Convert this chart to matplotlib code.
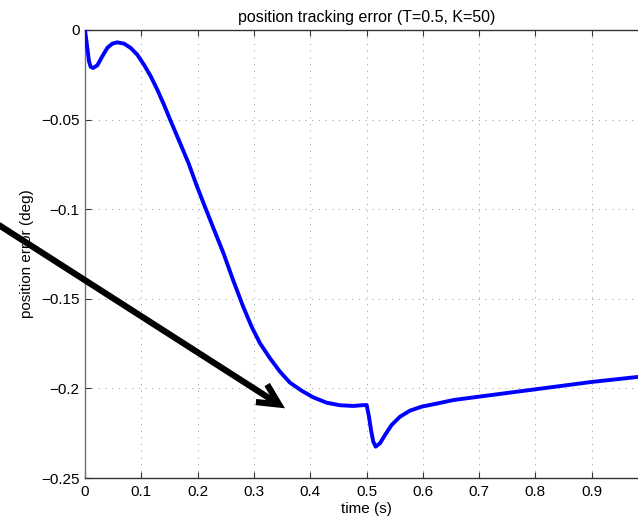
#!/usr/bin/env python3
"""Position tracking error plot (MATLAB-style) with a pointer arrow."""
import matplotlib
matplotlib.use("Agg")
import matplotlib.pyplot as plt

plt.rcParams["font.family"] = ["Liberation Sans", "DejaVu Sans"]

# ---- data ------------------------------------------------------------------
time_s = [0.0000, 0.0041, 0.0071, 0.0100, 0.0142, 0.0219, 0.0307, 0.0396,
          0.0485, 0.0574, 0.0693, 0.0811, 0.0929, 0.1048, 0.1167, 0.1284,
          0.1403, 0.151, 0.169, 0.184, 0.198, 0.213, 0.228, 0.246, 0.263,
          0.281, 0.296, 0.3108, 0.3286, 0.3464, 0.3641, 0.3849, 0.4055,
          0.4293, 0.4529, 0.4766, 0.4914, 0.5003, 0.5044, 0.508, 0.512,
          0.5163, 0.524, 0.5329, 0.5447, 0.5595, 0.5773, 0.598, 0.6275,
          0.6542, 0.700, 0.800, 0.900, 0.985]
err_deg = [0.0000, -0.0100, -0.0175, -0.0205, -0.0212, -0.0197, -0.0147,
           -0.0100, -0.0076, -0.0069, -0.0076, -0.0100, -0.0138, -0.0194,
           -0.0258, -0.0333, -0.0417, -0.0499, -0.0632, -0.0744, -0.0865,
           -0.0986, -0.1105, -0.1246, -0.1395, -0.1544, -0.1656, -0.1748,
           -0.1832, -0.1907, -0.1968, -0.2013, -0.2050, -0.2080, -0.2094,
           -0.2098, -0.2094, -0.2093, -0.2158, -0.2232, -0.2297, -0.2325,
           -0.2306, -0.2260, -0.2204, -0.2158, -0.2124, -0.2102, -0.2083,
           -0.2065, -0.2046, -0.2005, -0.1964, -0.1935]

x_ticks = [0, 0.1, 0.2, 0.3, 0.4, 0.5, 0.6, 0.7, 0.8, 0.9]
x_tick_labels = ["0", "0.1", "0.2", "0.3", "0.4", "0.5", "0.6", "0.7",
                 "0.8", "0.9"]
y_ticks = [-0.25, -0.2, -0.15, -0.1, -0.05, 0]
y_tick_labels = ["\u22120.25", "\u22120.2", "\u22120.15", "\u22120.1",
                 "\u22120.05", "0"]

# arrow annotation (data coords): tail starts off the left edge
arrow_tail = (-0.1865, -0.1021)
arrow_tip = (0.3552, -0.2111)

# ---- plot -------------------------------------------------------------------
fig = plt.figure(figsize=(6.38, 5.2), dpi=100)
# axes runs to x=1 just past the right edge (cropped like the original)
ax = fig.add_axes([85 / 638, 1 - 478 / 520, 563 / 638, 448 / 520])

ax.plot(time_s, err_deg, color="#0000ff", lw=2.8, solid_joinstyle="round",
        zorder=3)

ax.set_xlim(0, 1)
ax.set_ylim(-0.25, 0)
ax.set_xticks(x_ticks)
ax.set_xticklabels(x_tick_labels)
ax.set_yticks(y_ticks)
ax.set_yticklabels(y_tick_labels)
ax.tick_params(direction="in", length=4, width=0.8, labelsize=11,
               top=True, right=True, color="#333333")
ax.tick_params(axis="x", pad=5)
ax.tick_params(axis="y", pad=4)

ax.grid(True, color="#999999", lw=0.6, linestyle=(0, (1.5, 6.5)))
for side, sp in ax.spines.items():
    sp.set_color("#333333" if side != "left" else "#707070")
    sp.set_linewidth(1.0)

ax.set_title("position tracking error (T=0.5, K=50)", fontsize=11.5, pad=6)
ax.set_xlabel("time (s)", fontsize=11, labelpad=2)
ax.set_ylabel("position error (deg)", fontsize=11, labelpad=5)

ax.annotate("", xy=arrow_tip, xytext=arrow_tail, xycoords="data",
            annotation_clip=False, zorder=4,
            arrowprops=dict(arrowstyle="->,head_length=1.0,head_width=0.5",
                            mutation_scale=15, lw=4.5, color="black",
                            shrinkA=0, shrinkB=0, capstyle="butt",
                            joinstyle="miter"))

fig.savefig("out.png", dpi=100)
plt.close(fig)
